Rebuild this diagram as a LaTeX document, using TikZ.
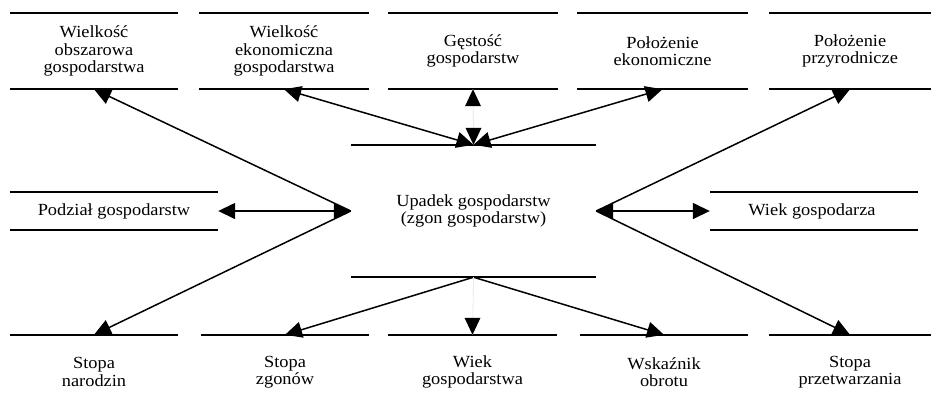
\documentclass[tikz,border=0pt]{standalone}
\usepackage{fontspec}
\setmainfont{Liberation Serif}[FakeStretch=1.08]
\usetikzlibrary{arrows.meta}
\begin{document}
\begin{tikzpicture}[x=1pt,y=-1pt,
  box/.style={inner sep=0pt, align=center, font=\fontsize{17}{17.5}\selectfont},
  rule/.style={line width=2.1pt},
  conn/.style={line width=1.5pt, -{Triangle[length=17pt,width=16pt]}},
  dconn/.style={line width=1.5pt, {Triangle[length=17pt,width=16pt]}-{Triangle[length=17pt,width=16pt]}},
  faint/.style={line width=0.6pt, draw=black!12}]
\useasboundingbox (0,0) rectangle (931,408);
% top row boxes
\node[box, minimum width=168, minimum height=76] (b1) at (94,51) {Wielkość\\obszarowa\\gospodarstwa};
\node[box, minimum width=170, minimum height=76] (b2) at (284,51) {Wielkość\\ekonomiczna\\gospodarstwa};
\node[box, minimum width=170, minimum height=76] (b3) at (473,51) {Gęstość\\gospodarstw};
\node[box, minimum width=171, minimum height=76] (b4) at (662.5,51) {Położenie\\ekonomiczne};
\node[box, minimum width=162, minimum height=76] (b5) at (850,51) {Położenie\\przyrodnicze};
\foreach \n in {b1,b2,b3,b4,b5}{
  \draw[rule] (\n.north west) -- (\n.north east);
  \draw[rule] (\n.south west) -- (\n.south east);
}
% middle
\node[box, minimum width=245, minimum height=132] (c) at (473.5,211) {Upadek gospodarstw\\(zgon gospodarstw)};
\draw[rule] (c.north west) -- (c.north east);
\draw[rule] (c.south west) -- (c.south east);
\node[box, minimum width=208, minimum height=38] (l) at (114,211) {Podział gospodarstw};
\node[box, minimum width=208, minimum height=38] (r) at (814,211) {\hspace*{-4pt}Wiek gospodarza};
\foreach \n in {l,r}{
  \draw[rule] (\n.north west) -- (\n.north east);
  \draw[rule] (\n.south west) -- (\n.south east);
}
% bottom row
\node[box, minimum width=168, minimum height=74] (d1) at (94,372) {Stopa\\narodzin};
\node[box, minimum width=168, minimum height=74] (d2) at (285,372) {Stopa\\zgonów};
\node[box, minimum width=169, minimum height=74] (d3) at (472.5,372) {Wiek\\gospodarstwa};
\node[box, minimum width=168, minimum height=74] (d4) at (664,372) {Wskaźnik\\obrotu};
\node[box, minimum width=162, minimum height=74] (d5) at (850,372) {Stopa\\przetwarzania};
\foreach \n in {d1,d2,d3,d4,d5}{
  \draw[rule] (\n.north west) -- (\n.north east);
}
% connectors
\draw[conn] (c.west) -- (b1.south);
\draw[conn] (c.west) -- (d1.north);
\draw[dconn] (c.west) -- (l.east);
\draw[conn] (c.east) -- (b5.south);
\draw[conn] (c.east) -- (d5.north);
\draw[dconn] (c.east) -- (r.west);
\draw[dconn] (c.north) -- (b2.south);
\draw[dconn] (c.north) -- (b4.south);
\draw[faint] (c.north) -- (b3.south);
\fill (c.north) -- ++(-8,-17) -- ++(16,0) -- cycle;
\fill (b3.south) -- ++(-8,17) -- ++(16,0) -- cycle;
\draw[conn] (c.south) -- (d2.north);
\draw[conn] (c.south) -- (d4.north);
\draw[faint] (c.south) -- (d3.north);
\fill (d3.north) -- ++(-8,-17) -- ++(16,0) -- cycle;
\end{tikzpicture}
\end{document}
